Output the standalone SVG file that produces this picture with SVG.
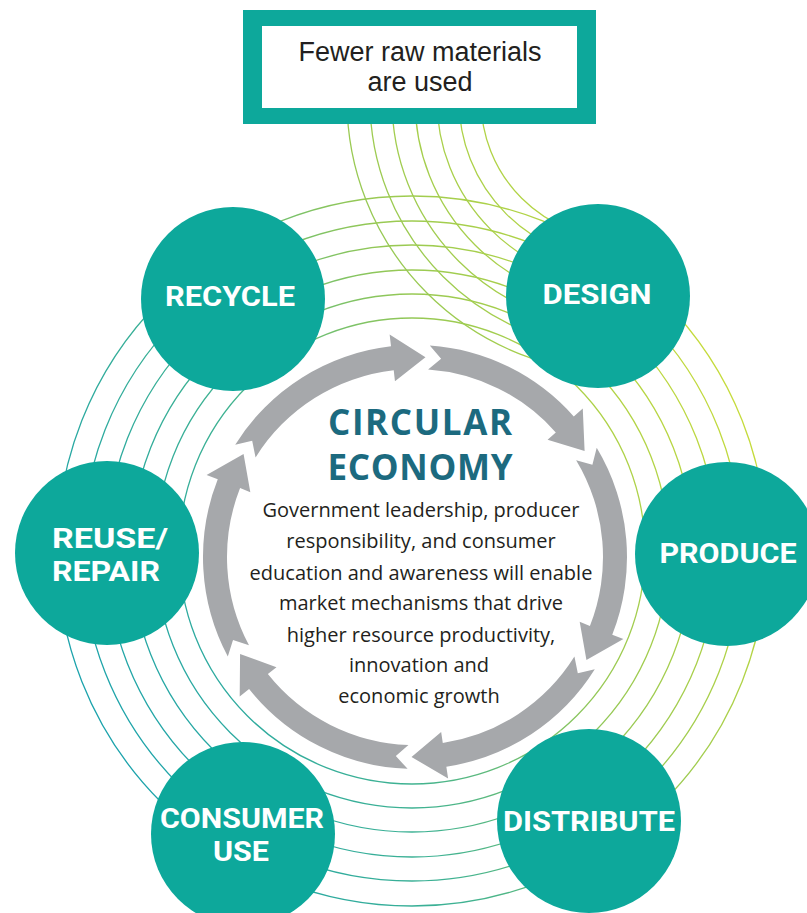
<svg xmlns="http://www.w3.org/2000/svg" width="807" height="913" viewBox="0 0 807 913">
<defs>
<linearGradient id="ringGrad" gradientUnits="userSpaceOnUse" x1="80" y1="700" x2="740" y2="380">
<stop offset="0" stop-color="#1aa2ad"/>
<stop offset="0.35" stop-color="#3fb292"/>
<stop offset="0.65" stop-color="#98c954"/>
<stop offset="1" stop-color="#c8dc3a"/>
</linearGradient>
<style>
.ring{fill:none;stroke:url(#ringGrad);stroke-width:1.3}
.node{fill:#0da89b}
.lbl{fill:#ffffff;font-family:Roboto,"Liberation Sans",sans-serif;font-weight:700;font-size:28px;text-anchor:middle}
.arrow{fill:#a6a8ab}
.title{fill:#1c6a7f;font-family:"Open Sans","Liberation Sans",sans-serif;font-weight:700;font-size:35px;text-anchor:middle}
.body{fill:#231f20;font-family:"Open Sans","Liberation Sans",sans-serif;font-size:20px;text-anchor:middle}
.box{fill:#231f20;font-family:"Liberation Sans",Arial,sans-serif;font-size:27px;text-anchor:middle}
</style>
</defs>
<rect width="807" height="913" fill="#ffffff"/>
<g id="rings">
<circle class="ring" cx="412" cy="551" r="233"/>
<circle class="ring" cx="412" cy="551" r="257"/>
<circle class="ring" cx="412" cy="551" r="281"/>
<circle class="ring" cx="412" cy="551" r="306"/>
<circle class="ring" cx="412" cy="551" r="330"/>
<circle class="ring" cx="412" cy="551" r="355"/>
</g>
<g id="material-flow">
<path class="ring" d="M481,100 A139,139 0 0 0 620,239"/>
<path class="ring" d="M459,100 A161,161 0 0 0 620,261"/>
<path class="ring" d="M437,100 A183,183 0 0 0 620,283"/>
<path class="ring" d="M415,100 A205,205 0 0 0 620,305"/>
<path class="ring" d="M392,100 A228,228 0 0 0 620,328"/>
<path class="ring" d="M370,100 A250,250 0 0 0 620,350"/>
<path class="ring" d="M347,100 A273,273 0 0 0 620,373"/>
</g>
<g id="raw-materials">
<rect x="243" y="10" width="353" height="114" fill="#0da89b"/>
<rect x="262" y="26" width="315" height="82" fill="#ffffff"/>
<text class="box" x="420" y="61">Fewer raw materials</text>
<text class="box" x="420" y="91">are used</text>
</g>
<g id="recycle"><circle class="node" cx="233" cy="299" r="92"/><text class="lbl" x="230" y="306" textLength="130" lengthAdjust="spacingAndGlyphs">RECYCLE</text></g>
<g id="design"><circle class="node" cx="598" cy="296" r="92"/><text class="lbl" x="597" y="304" textLength="109" lengthAdjust="spacingAndGlyphs">DESIGN</text></g>
<g id="produce"><circle class="node" cx="727" cy="554" r="92"/><text class="lbl" x="728" y="563" textLength="137" lengthAdjust="spacingAndGlyphs">PRODUCE</text></g>
<g id="distribute"><circle class="node" cx="589" cy="821" r="92"/><text class="lbl" x="589" y="831" textLength="172" lengthAdjust="spacingAndGlyphs">DISTRIBUTE</text></g>
<g id="consumer-use"><circle class="node" cx="243" cy="834" r="92"/><text class="lbl" x="242" y="828" textLength="164" lengthAdjust="spacingAndGlyphs">CONSUMER</text><text class="lbl" x="241" y="861" textLength="56" lengthAdjust="spacingAndGlyphs">USE</text></g>
<g id="reuse-repair"><circle class="node" cx="107" cy="553" r="92"/><text class="lbl" x="52" y="548" style="text-anchor:start" textLength="116" lengthAdjust="spacingAndGlyphs">REUSE/</text><text class="lbl" x="52" y="581" style="text-anchor:start" textLength="108" lengthAdjust="spacingAndGlyphs">REPAIR</text></g>
<g id="connectors">
<path class="arrow" d="M235.21,444.66 A212,212 0 0 1 391.00,346.36 L389.64,334.44 L425.47,357.27 L394.96,381.14 L393.72,370.21 A188,188 0 0 0 255.57,457.38 L252.18,440.86 Z"/>
<path class="arrow" d="M429.79,345.52 A212,212 0 0 1 573.78,416.52 L582.77,408.57 L584.61,451.02 L547.57,439.72 L555.80,432.43 A188,188 0 0 0 428.11,369.46 L441.11,358.71 Z"/>
<path class="arrow" d="M596.72,447.81 A212,212 0 0 1 612.25,634.70 L623.41,639.10 L586.43,660.01 L579.68,621.87 L589.92,625.90 A188,188 0 0 0 576.15,460.17 L592.40,464.65 Z"/>
<path class="arrow" d="M594.79,669.34 A212,212 0 0 1 446.34,766.67 L448.11,778.54 L411.51,756.97 L441.16,732.06 L442.79,742.94 A188,188 0 0 0 574.43,656.62 L577.82,673.14 Z"/>
<path class="arrow" d="M407.60,768.87 A212,212 0 0 1 249.09,688.97 L239.70,696.44 L240.08,653.96 L276.48,667.18 L267.87,674.03 A188,188 0 0 0 408.44,744.89 L395.83,756.08 Z"/>
<path class="arrow" d="M227.81,656.53 A212,212 0 0 1 217.75,479.30 L206.59,474.90 L243.57,453.99 L250.32,492.13 L240.08,488.10 A188,188 0 0 0 249.01,645.26 L233.01,639.94 Z"/>
</g>
<g id="circular-economy">
<text class="title" x="420" y="435" textLength="184" lengthAdjust="spacing">CIRCULAR</text>
<text class="title" x="420" y="480" textLength="185" lengthAdjust="spacing">ECONOMY</text>
<text class="body" x="421" y="517">Government leadership, producer</text>
<text class="body" x="421" y="548">responsibility, and consumer</text>
<text class="body" x="421" y="580">education and awareness will enable</text>
<text class="body" x="421" y="610">market mechanisms that drive</text>
<text class="body" x="421" y="642">higher resource productivity,</text>
<text class="body" x="419" y="672">innovation and</text>
<text class="body" x="419" y="703">economic growth</text>
</g>
</svg>
